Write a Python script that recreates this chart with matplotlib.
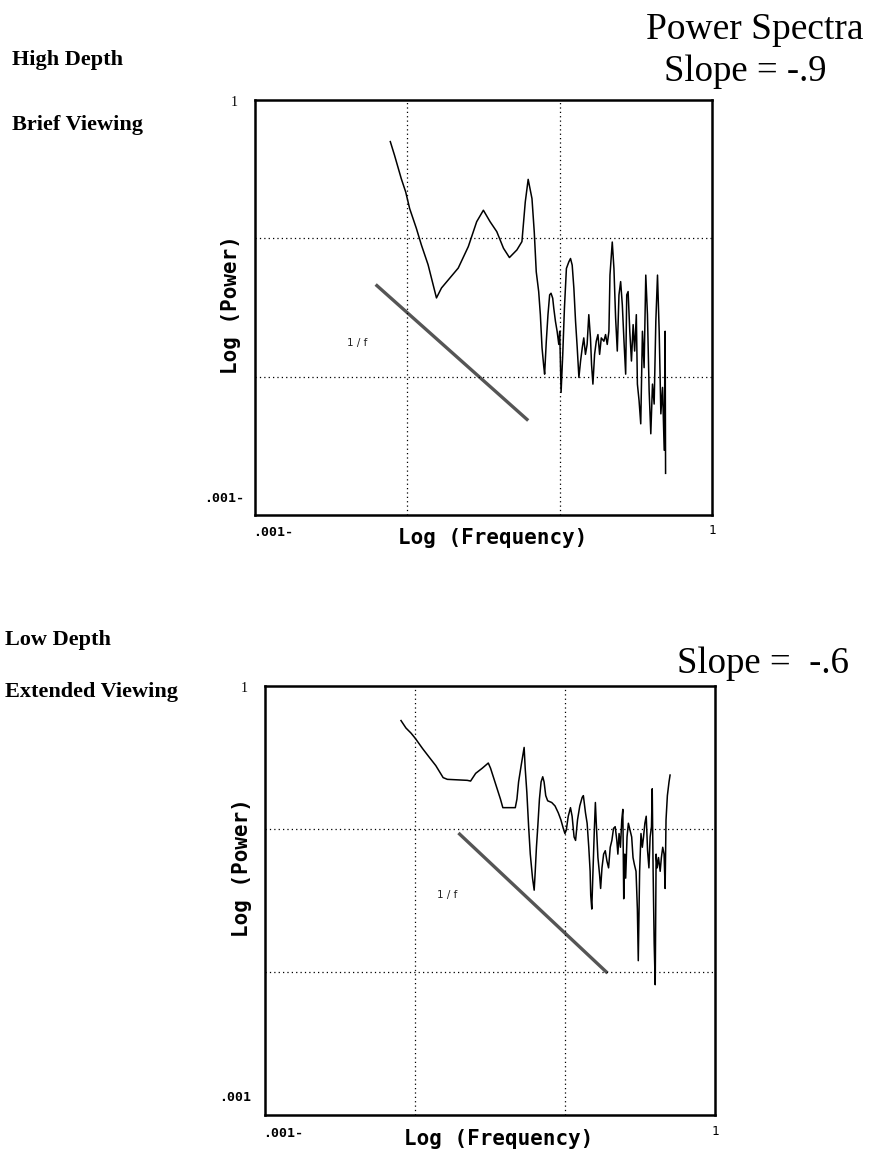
import numpy as np
import matplotlib
matplotlib.use("Agg")
import matplotlib.pyplot as plt

# log10 values
# --- High Depth / Brief Viewing ---
hd_logf = [-2.112, -2.084, -2.040, -2.011, -1.985, -1.941, -1.908, -1.864, -1.809,
           -1.776, -1.721, -1.666, -1.600, -1.545, -1.501, -1.457, -1.413, -1.369,
           -1.330, -1.281, -1.248, -1.226, -1.207, -1.182,
           -1.167, -1.154, -1.138, -1.127, -1.116, -1.105, -1.099, -1.088, -1.077,
           -1.066, -1.057, -1.046, -1.039, -1.028, -1.017, -1.006, -1.000, -0.991,
           -0.980, -0.969, -0.956, -0.940, -0.929, -0.918, -0.907, -0.896, -0.885,
           -0.874, -0.863, -0.852, -0.842, -0.831, -0.820, -0.809, -0.798, -0.791,
           -0.782, -0.771, -0.760, -0.749, -0.738, -0.727, -0.710, -0.699, -0.688,
           -0.677, -0.670, -0.655, -0.644, -0.633, -0.622, -0.611, -0.600, -0.589,
           -0.578, -0.567, -0.560, -0.551, -0.540, -0.529, -0.518, -0.508, -0.497,
           -0.490, -0.479, -0.468, -0.457, -0.446, -0.435, -0.424, -0.413, -0.402,
           -0.391, -0.380, -0.369, -0.358, -0.347, -0.336, -0.325, -0.314, -0.308,
           -0.305]
hd_logp = [-0.301, -0.401, -0.569, -0.665, -0.785, -0.928, -1.048, -1.191, -1.431,
           -1.359, -1.287, -1.215, -1.060, -0.880, -0.797, -0.880, -0.952, -1.072,
           -1.139, -1.084, -1.024, -0.737, -0.574, -0.713,
           -0.955, -1.242, -1.385, -1.552, -1.791, -1.923, -1.982, -1.744, -1.552,
           -1.409, -1.397, -1.433, -1.505, -1.600, -1.672, -1.767, -1.672, -2.114,
           -1.839, -1.505, -1.218, -1.170, -1.146, -1.194, -1.361, -1.600, -1.791,
           -2.006, -1.887, -1.791, -1.720, -1.839, -1.767, -1.552, -1.720, -1.911,
           -2.054, -1.839, -1.744, -1.696, -1.839, -1.720, -1.744, -1.696, -1.767,
           -1.672, -1.266, -1.027, -1.218, -1.576, -1.815, -1.409, -1.313, -1.481,
           -1.744, -1.982, -1.409, -1.385, -1.672, -1.887, -1.624, -1.815, -1.552,
           -2.054, -2.174, -2.341, -1.672, -1.935, -1.266, -1.552, -2.102, -2.413,
           -2.054, -2.198, -1.600, -1.266, -1.672, -2.269, -2.078, -2.532, -1.672,
           -2.699]
hd_ref_logf = [-2.200, -1.215]
hd_ref_logp = [-1.342, -2.309]

# --- Low Depth / Extended Viewing ---
ld_logf = [-2.093, -2.060, -2.026, -1.998, -1.949, -1.905, -1.861, -1.812, -1.784,
           -1.651, -1.629,
           -1.595, -1.551, -1.511, -1.496, -1.474, -1.452, -1.430, -1.414, -1.331,
           -1.320, -1.309, -1.291, -1.272, -1.265, -1.254, -1.242, -1.231, -1.216,
           -1.205, -1.198, -1.190, -1.181, -1.170, -1.159, -1.148, -1.139, -1.128,
           -1.115, -1.088, -1.066, -1.044, -1.027, -1.011, -1.000, -0.991, -0.978,
           -0.963, -0.952, -0.939,
           -0.929, -0.916, -0.901, -0.885, -0.877, -0.863, -0.852, -0.841, -0.832,
           -0.828, -0.821, -0.813, -0.804, -0.797, -0.791, -0.780, -0.769, -0.762,
           -0.753, -0.742, -0.731, -0.720, -0.709, -0.698, -0.687, -0.676, -0.665,
           -0.654, -0.647, -0.639, -0.630, -0.621, -0.614, -0.608, -0.601, -0.595,
           -0.586, -0.577, -0.566, -0.555, -0.546, -0.537, -0.526, -0.517, -0.511,
           -0.502, -0.493, -0.484, -0.476, -0.467, -0.458, -0.449, -0.440, -0.432,
           -0.423, -0.418, -0.412, -0.405, -0.398, -0.392, -0.385, -0.376, -0.365,
           -0.357, -0.348, -0.339, -0.332, -0.326, -0.317, -0.306, -0.299]
ld_logp = [-0.242, -0.294, -0.330, -0.366, -0.438, -0.498, -0.557, -0.641, -0.653,
           -0.660, -0.665,
           -0.611, -0.575, -0.539, -0.575, -0.647, -0.719, -0.791, -0.851, -0.851,
           -0.791, -0.671, -0.551, -0.430, -0.575, -0.743, -0.984, -1.176, -1.344,
           -1.428, -1.296, -1.128, -0.984, -0.791, -0.671, -0.635, -0.671, -0.767,
           -0.803, -0.815, -0.839, -0.888, -0.936, -0.996, -1.032, -1.008, -0.912,
           -0.851, -0.912, -1.056,
           -1.080, -0.936, -0.839, -0.779, -0.767, -0.887, -0.960, -1.128, -1.296,
           -1.464, -1.560, -1.296, -1.008, -0.815, -0.960, -1.200, -1.320, -1.416,
           -1.272, -1.176, -1.152, -1.224, -1.272, -1.128, -1.080, -0.996, -0.984,
           -1.080, -1.176, -1.032, -1.128, -0.936, -0.863, -1.488, -1.176, -1.344,
           -1.056, -0.960, -1.008, -1.056, -1.200, -1.248, -1.296, -1.560, -1.921,
           -1.296, -1.032, -1.128, -1.056, -0.960, -0.911, -1.152, -1.272, -1.056,
           -0.984, -0.719, -1.296, -1.801, -2.089, -1.176, -1.272, -1.200, -1.296,
           -1.200, -1.128, -1.176, -1.416, -0.936, -0.767, -0.671, -0.623]
ld_ref_logf = [-1.702, -0.724]
ld_ref_logp = [-1.036, -2.000]

SERIF = ["Liberation Serif", "DejaVu Serif"]
MONO = ["DejaVu Sans Mono"]


def spectrum_panel(ax, logf, logp, ref_logf, ref_logp, label_pos, ylab_y, ymin_text):
    ax.loglog(np.power(10.0, logf), np.power(10.0, logp), color="black", lw=1.1)
    ax.loglog(np.power(10.0, ref_logf), np.power(10.0, ref_logp), color="#555555", lw=2.4)
    ax.set_xlim(1e-3, 1)
    ax.set_ylim(1e-3, 1)
    for v in (1e-2, 1e-1):
        ax.axvline(v, color="black", lw=0.9, ls=(0, (1, 2.5)))
        ax.axhline(v, color="black", lw=0.9, ls=(0, (1, 2.5)))
    ax.set_xticks([])
    ax.set_yticks([])
    ax.minorticks_off()
    for s in ax.spines.values():
        s.set_linewidth(1.8)
    ax.text(label_pos[0], label_pos[1], "1 / f", fontsize=7.5, color="#222222",
            ha="center", va="center")
    tr = ax.transAxes
    ax.text(-0.045, 0.995, "1", transform=tr, fontsize=10, family=SERIF, ha="center", va="center")
    ax.text(-0.067, 0.04, ymin_text, transform=tr, fontsize=9.5, family=MONO,
            fontweight="bold", ha="center", va="center")
    ax.text(0.04, -0.042, ".001-", transform=tr, fontsize=9.5, family=MONO,
            fontweight="bold", ha="center", va="center")
    ax.text(1.0, -0.038, "1", transform=tr, fontsize=9, family=MONO, ha="center", va="center")
    ax.text(0.52, -0.055, "Log (Frequency)", transform=tr, fontsize=15, family=MONO,
            fontweight="bold", ha="center", va="center")
    ax.text(-0.052, ylab_y, "Log (Power)", transform=tr, fontsize=15, family=MONO,
            fontweight="bold", ha="center", va="center", rotation=90)


fig = plt.figure(figsize=(8.71, 11.49), dpi=100)

ax1 = fig.add_axes([0.2928, 0.5518, 0.5247, 0.3612])
spectrum_panel(ax1, hd_logf, hd_logp, hd_ref_logf, hd_ref_logp,
               (10 ** -2.33, 10 ** -1.757), 0.506, ".001-")

ax2 = fig.add_axes([0.3042, 0.0296, 0.5166, 0.3734])
spectrum_panel(ax2, ld_logf, ld_logp, ld_ref_logf, ld_ref_logp,
               (10 ** -1.784, 10 ** -1.462), 0.576, ".001")

fig.text(755 / 871, 1 - 30 / 1149, "Power Spectra", family=SERIF, fontsize=27,
         ha="center", va="center")
fig.text(745 / 871, 1 - 72 / 1149, "Slope = -.9", family=SERIF, fontsize=26.5,
         ha="center", va="center")
fig.text(763 / 871, 1 - 664 / 1149, "Slope =  -.6", family=SERIF, fontsize=26.5,
         ha="center", va="center")

fig.text(12 / 871, 1 - 60 / 1149, "High Depth", family=SERIF, fontsize=16,
         fontweight="bold", ha="left", va="center")
fig.text(12 / 871, 1 - 125 / 1149, "Brief Viewing", family=SERIF, fontsize=16,
         fontweight="bold", ha="left", va="center")
fig.text(5 / 871, 1 - 640 / 1149, "Low Depth", family=SERIF, fontsize=16,
         fontweight="bold", ha="left", va="center")
fig.text(5 / 871, 1 - 692 / 1149, "Extended Viewing", family=SERIF, fontsize=16,
         fontweight="bold", ha="left", va="center")

fig.savefig("out.png", dpi=100)
